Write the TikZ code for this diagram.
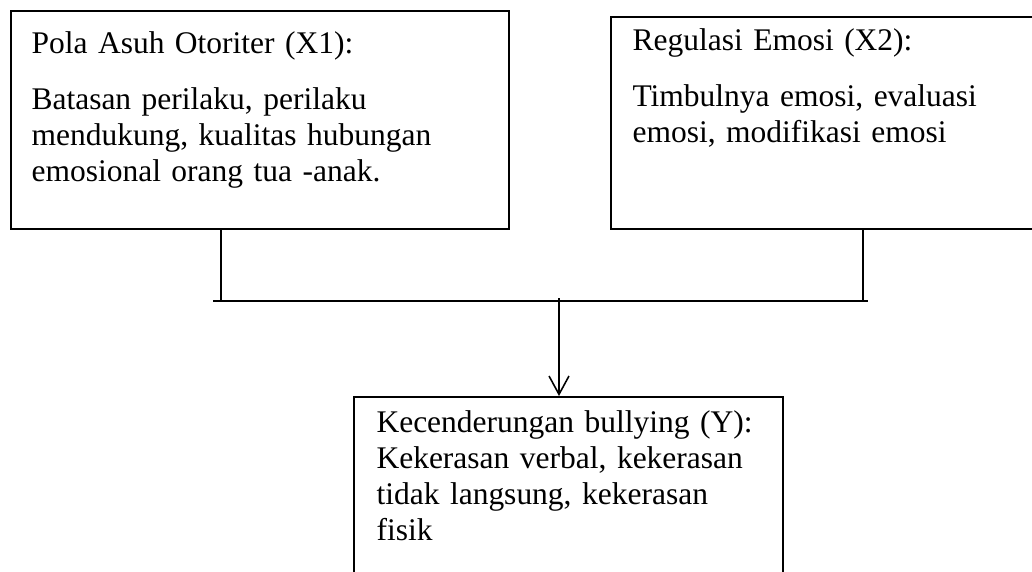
\documentclass[tikz,border=0pt]{standalone}
\usepackage{fontspec}
\setmainfont{Liberation Serif}
\usetikzlibrary{positioning,arrows.meta,fit}

\begin{document}
\begin{tikzpicture}[x=0.381pt, y=-0.381pt,
  box/.style={draw, line width=0.75pt, inner sep=0pt},
  txt/.style={anchor=base west, inner sep=0pt, align=left, text width=180pt,
    font=\fontsize{12}{13.8}\selectfont},
  link/.style={line width=0.6pt},
  arrow/.style={line width=0.6pt, -{Straight Barb[length=7pt, width=7.6pt]}}]
  \useasboundingbox (0,0) rectangle (1032,571);
  % boxes
  \node[box, fit={(11,11) (509,229)}] (x1) {};
  \node[box, fit={(611,17) (1040,229)}] (x2) {};
  \node[box, fit={(354,397) (783,590)}] (y1) {};
  % texts
  \node[txt] (x1t) at (31,53) {Pola Asuh Otoriter (X1):\\[7.6pt]
    Batasan perilaku, perilaku\\ mendukung, kualitas hubungan\\ emosional orang tua -anak.};
  \node[txt] (x2t) at (632,50) {Regulasi Emosi (X2):\\[7.6pt]
    Timbulnya emosi, evaluasi\\ emosi, modifikasi emosi};
  \node[txt] (y1t) at (376,432) {Kecenderungan bullying (Y):\\
    Kekerasan verbal, kekerasan\\ tidak langsung, kekerasan\\ fisik};
  % junction
  \coordinate (jl) at (221,301);
  \coordinate (jr) at (863,301);
  \coordinate (hl) at (213,301);
  \coordinate (hr) at (868,301);
  \coordinate (jm) at (559,298);
  \draw[link] (x1.south -| jl) -- (jl);
  \draw[link] (x2.south -| jr) -- (jr);
  \draw[link] (hl) -- (hr);
  \draw[arrow] (jm) -- (y1.north -| jm);
\end{tikzpicture}
\end{document}
